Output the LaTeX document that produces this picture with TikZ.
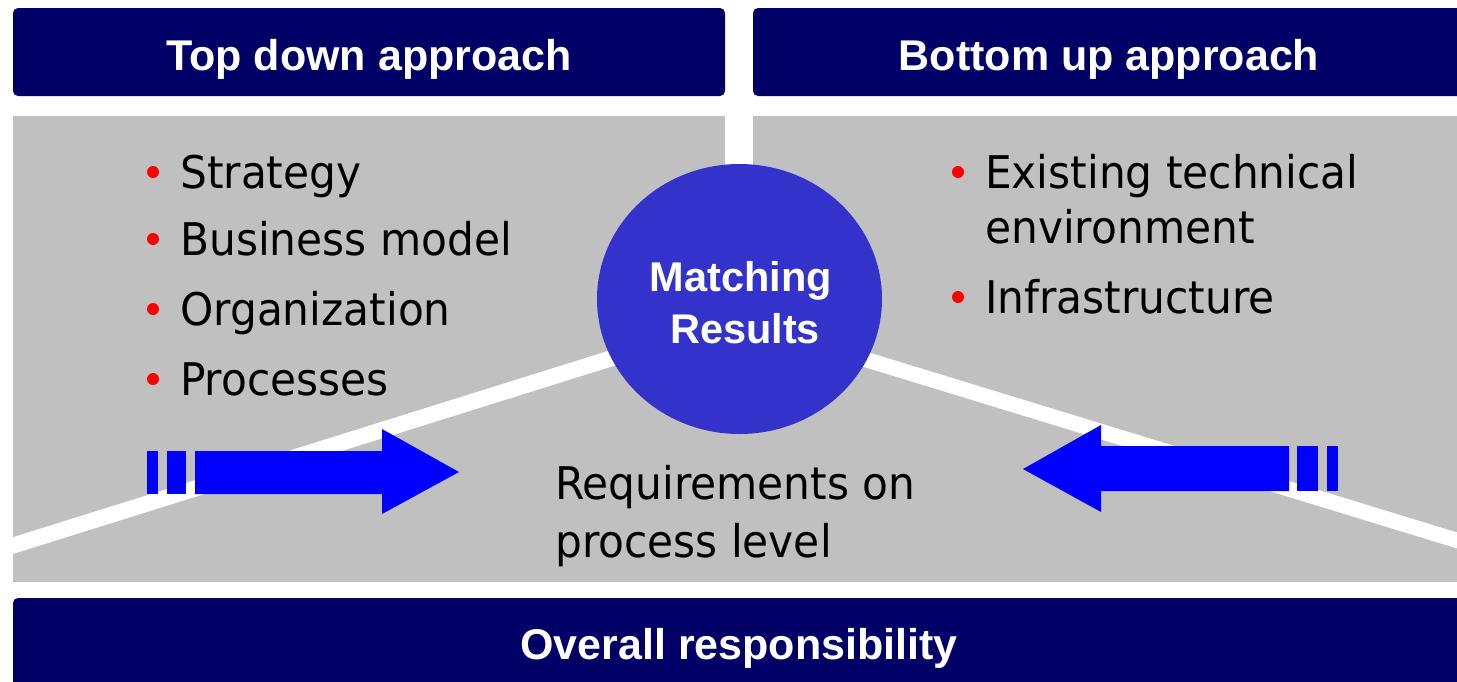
\documentclass[tikz,border=0pt]{standalone}
\usepackage{fontspec}
\usetikzlibrary{shapes.geometric}
\setmainfont{DejaVu Sans}
\newfontfamily\bodyfont{DejaVu Sans}[FakeStretch=0.94]
\newfontfamily\headfont{Liberation Sans}
\definecolor{navy}{RGB}{0,0,102}
\definecolor{panelgray}{RGB}{192,192,192}
\definecolor{ringblue}{RGB}{51,51,204}
\definecolor{arrowblue}{RGB}{0,0,255}
\definecolor{bulletred}{RGB}{255,0,0}
\begin{document}
\begin{tikzpicture}[x=1pt,y=-1pt,
  barfill/.style={fill=navy, rounded corners=5pt},
  headtext/.style={text=white, font=\headfont\bfseries\fontsize{43}{48}\selectfont, inner sep=0pt, anchor=base},
  circletext/.style={text=white, font=\headfont\bfseries\fontsize{41.5}{48}\selectfont, inner sep=0pt, anchor=base},
  bodytext/.style={text=black, font=\bodyfont\fontsize{45}{54}\selectfont, inner sep=0pt, anchor=base west},
  reddot/.style={circle, fill=bulletred, inner sep=0pt, minimum size=12pt},
  band/.style={draw=white, line width=16pt},
  arrowfill/.style={fill=arrowblue}
]
\useasboundingbox (0,0) rectangle (1457,681);
\fill[white] (0,0) rectangle (1457,681);

% header bars and bottom bar
\fill[barfill] (13,8) rectangle (725,96);
\fill[barfill] (753,8) rectangle (1470,96);
\fill[barfill] (13,598) rectangle (1470,695);

% grey panels
\fill[panelgray] (13,116) rectangle (725,582);
\fill[panelgray] (753,116) rectangle (1457,582);
\fill[panelgray] (724,250) rectangle (754,582);

% white separating bands
\draw[band] (0,549.6) -- (740,318);
\draw[line width=15.3pt, white] (740,321) -- (1470,544.4);

% central ellipse
\node[ellipse, fill=ringblue, minimum width=285pt, minimum height=270pt, inner sep=0pt] (match) at (739.5,299) {};
\node[circletext] (matchA) at (741,291) {Matching};
\node[circletext] (matchB) at (745,343) {Results};

% headings
\node[headtext] (tdhead) at (369,70) {Top down approach};
\node[headtext] (buhead) at (1109,70) {Bottom up approach};
\node[headtext] (overall) at (739,659) {Overall responsibility};

% left list
\node[reddot] (d1) at (153,172) {};
\node[bodytext] (t1) at (180,188) {Strategy};
\node[reddot] (d2) at (153,239) {};
\node[bodytext] (t2) at (180,255) {Business model};
\node[reddot] (d3) at (153,309) {};
\node[bodytext] (t3) at (180,325) {Organization};
\node[reddot] (d4) at (153,379) {};
\node[bodytext] (t4) at (180,395) {Processes};

% right list
\node[reddot] (e1) at (958,172) {};
\node[bodytext] (u1) at (985,188) {Existing technical};
\node[bodytext] (u1b) at (985,243) {environment};
\node[reddot] (e2) at (958,297) {};
\node[bodytext] (u2) at (985,313) {Infrastructure};

% centre text
\node[bodytext] (req1) at (555,499) {Requirements on};
\node[bodytext] (req2) at (555,557) {process level};

% left arrow
\fill[arrowfill] (147,451) rectangle (158,494);
\fill[arrowfill] (167,451) rectangle (186,494);
\fill[arrowfill] (195,451) -- (382,451) -- (382,429) -- (459,472) -- (382,514) -- (382,494) -- (195,494) -- cycle;

% right arrow
\fill[arrowfill] (1327,446) rectangle (1338,491);
\fill[arrowfill] (1297,446) rectangle (1318,491);
\fill[arrowfill] (1289,446) -- (1101,446) -- (1101,425) -- (1023,469) -- (1101,512) -- (1101,491) -- (1289,491) -- cycle;
\end{tikzpicture}
\end{document}
